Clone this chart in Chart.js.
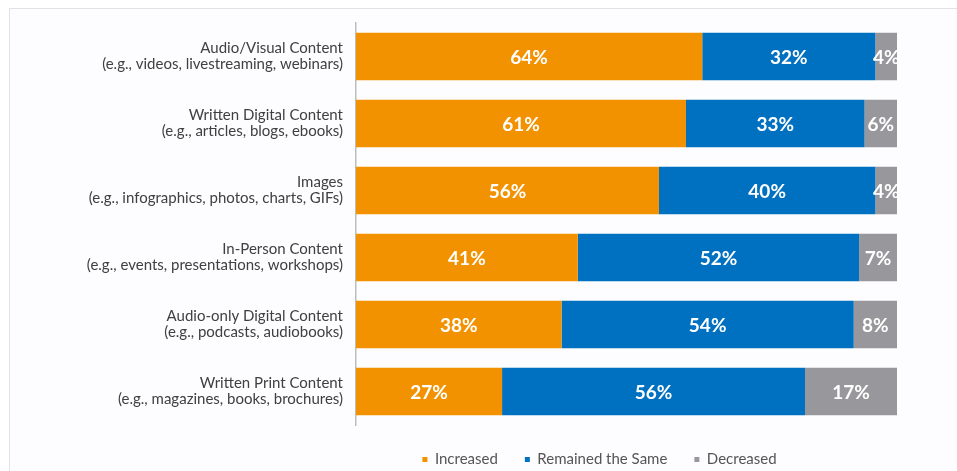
<!DOCTYPE html>
<html>
<head>
<meta charset="utf-8">
<title>Content formats: change in use</title>
<script src="https://cdn.jsdelivr.net/npm/chart.js@4/dist/chart.umd.min.js"></script>
<style>
  html, body { margin: 0; padding: 0; background: #ffffff; overflow: hidden; }
  .frame {
    position: absolute; left: 9px; top: 8px; right: -4px; bottom: -4px;
    border: 1px solid #e2e2e4; background: #fdfcfe;
  }
  .wrap { position: absolute; left: 0; top: 0; width: 957px; height: 477px; }
</style>
</head>
<body>
<div class="frame"></div>
<div class="wrap"><canvas id="chart"></canvas></div>
<script>
// Content categories, top to bottom. Each label is [title, examples].
const categories = [
  ['Audio/Visual Content', '(e.g., videos, livestreaming, webinars)'],
  ['Written Digital Content', '(e.g., articles, blogs, ebooks)'],
  ['Images', '(e.g., infographics, photos, charts, GIFs)'],
  ['In-Person Content', '(e.g., events, presentations, workshops)'],
  ['Audio-only Digital Content', '(e.g., podcasts, audiobooks)'],
  ['Written Print Content', '(e.g., magazines, books, brochures)'],
];

// Share of respondents, in percent.
const increased = [64, 61, 56, 41, 38, 27];
const remainedSame = [32, 33, 40, 52, 54, 56];
const decreased = [4, 6, 4, 7, 8, 17];

const seriesNames = ['Increased', 'Remained the Same', 'Decreased'];

const ORANGE = '#f39200';
const BLUE = '#0070c0';
const GREY = '#98979c';
const TEXT = '#404040';
const FONT = 'Lato, "Noto Sans", sans-serif';

// White percentage in the middle of every segment.
const segmentLabels = {
  id: 'segmentLabels',
  afterDatasetsDraw(chart) {
    const ctx = chart.ctx;
    ctx.save();
    ctx.font = 'bold 19px ' + FONT;
    ctx.fillStyle = '#ffffff';
    ctx.textAlign = 'center';
    ctx.textBaseline = 'middle';
    chart.data.datasets.forEach((ds, di) => {
      chart.getDatasetMeta(di).data.forEach((bar, i) => {
        const p = bar.getProps(['x', 'y', 'base'], true);
        ctx.fillText(ds.data[i] + '%', (p.x + p.base) / 2, p.y + 1);
      });
    });
    ctx.restore();
  },
};

// The legend sits a little left of the bar block's centre.
const legendNudge = {
  id: 'legendNudge',
  afterLayout(chart) {
    chart.legend.left -= 27;
    chart.legend.right -= 27;
  },
};

new Chart(document.getElementById('chart'), {
  type: 'bar',
  data: {
    labels: categories,
    datasets: [
      { label: seriesNames[0], data: increased, backgroundColor: ORANGE },
      { label: seriesNames[1], data: remainedSame, backgroundColor: BLUE },
      { label: seriesNames[2], data: decreased, backgroundColor: GREY },
    ],
  },
  options: {
    indexAxis: 'y',
    responsive: true,
    maintainAspectRatio: false,
    animation: false,
    datasets: {
      bar: { categoryPercentage: 1, barPercentage: 0.71, borderWidth: 0 },
    },
    layout: { padding: { left: 0, right: 60, top: 23, bottom: 0 } },
    scales: {
      x: { display: false, stacked: true, min: 0, max: 100 },
      y: {
        stacked: true,
        grid: { display: false, drawTicks: false },
        border: { display: true, color: '#bdbdbd', width: 1.5 },
        ticks: {
          color: TEXT,
          padding: 13,
          font: { family: FONT, size: 15, lineHeight: 1.08 },
        },
        afterFit(scale) {
          // fixed label column; the two-line labels never reach the edges
          scale.width = 356;
          scale.paddingTop = 0;
          scale.paddingBottom = 0;
        },
      },
    },
    plugins: {
      tooltip: { enabled: false },
      legend: {
        position: 'bottom',
        fullSize: false,
        labels: {
          usePointStyle: true,
          pointStyle: 'rect',
          boxWidth: 5,
          boxHeight: 5,
          padding: 27,
          color: '#555555',
          font: { family: FONT, size: 15 },
        },
      },
    },
  },
  plugins: [segmentLabels, legendNudge],
});
</script>
</body>
</html>
